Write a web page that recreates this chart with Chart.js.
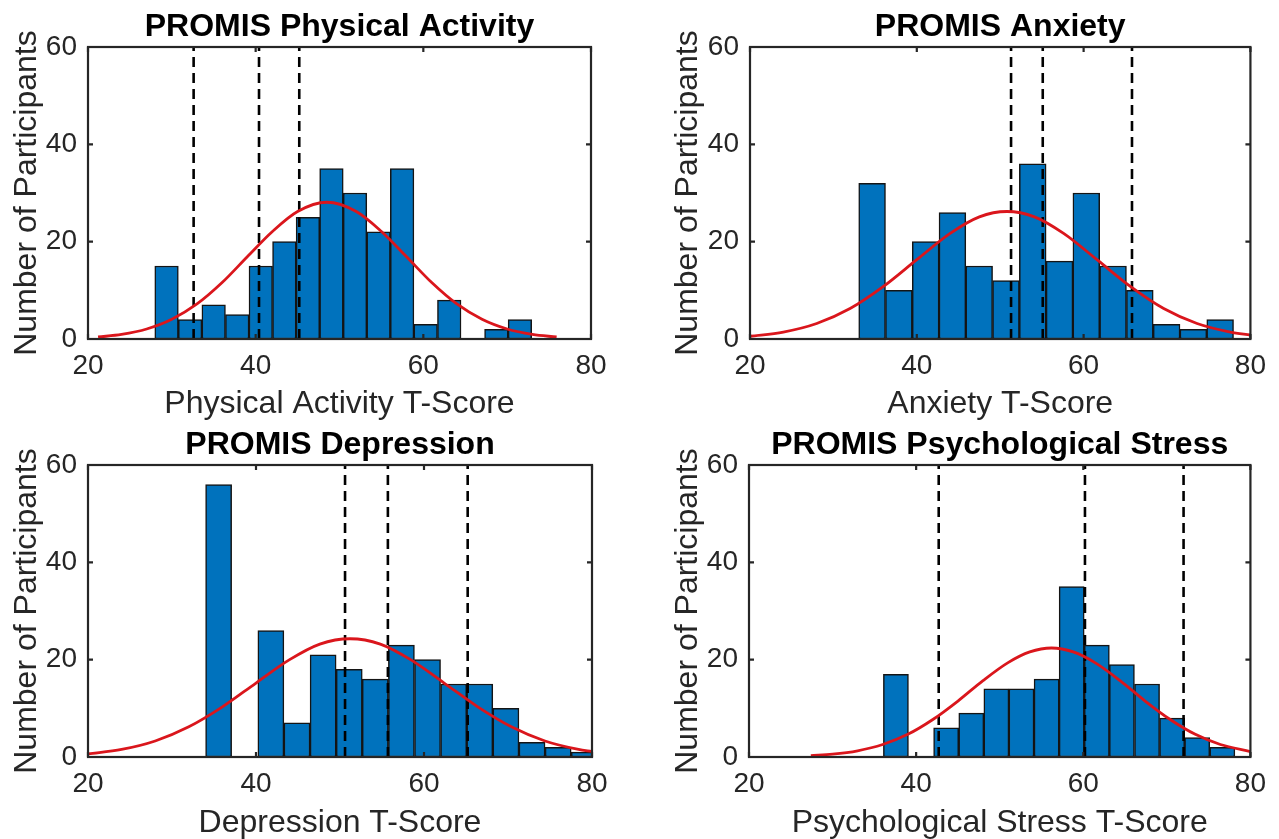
<!DOCTYPE html>
<html><head><meta charset="utf-8">
<script src="https://cdn.jsdelivr.net/npm/chart.js@4.4.1/dist/chart.umd.min.js"></script>
<style>
html,body{margin:0;padding:0;background:#fff;overflow:hidden;width:1279px;height:839px;}
.panel{position:absolute;}
</style></head><body>
<div class="panel" style="left:0;top:0;width:640px;height:420px"><canvas id="c1"></canvas></div>
<div class="panel" style="left:640px;top:0;width:639px;height:420px"><canvas id="c2"></canvas></div>
<div class="panel" style="left:0;top:418px;width:640px;height:421px"><canvas id="c3"></canvas></div>
<div class="panel" style="left:640px;top:418px;width:639px;height:421px"><canvas id="c4"></canvas></div>
<script>
// ---- shared axis values ----
const xTickValues = [20, 40, 60, 80];
const yTickValues = [0, 20, 40, 60];
const yAxisTitle = 'Number of Participants';

// ---- PROMIS Physical Activity ----
const paTitle = 'PROMIS Physical Activity';
const paXLabel = 'Physical Activity T-Score';
const paBinCenters = [29.37, 32.18, 34.99, 37.80, 40.61, 43.42, 46.23, 49.04, 51.85, 54.66, 57.47, 60.28, 63.09, 65.90, 68.71, 71.52];
const paCounts = [15, 4, 7, 5, 15, 20, 25, 35, 30, 22, 35, 3, 8, 0, 2, 4];
const paCurveX = [21.2, 24, 27, 30, 33, 36, 39, 42, 45, 48.5, 52, 55, 58, 61, 64, 67, 70, 73, 75.9];
const paCurveY = [0.41, 0.94, 2.05, 4.05, 7.2, 11.6, 16.9, 22.1, 26.2, 28.1, 26.2, 22.1, 16.9, 11.6, 7.2, 4.05, 2.05, 0.94, 0.41];
const paCutoffs = [32.6, 40.4, 45.2];

// ---- PROMIS Anxiety ----
const anxTitle = 'PROMIS Anxiety';
const anxXLabel = 'Anxiety T-Score';
const anxBinCenters = [34.64, 37.85, 41.06, 44.27, 47.48, 50.69, 53.90, 57.11, 60.32, 63.53, 66.74, 69.95, 73.16, 76.37];
const anxCounts = [32, 10, 20, 26, 15, 12, 36, 16, 30, 15, 10, 3, 2, 4];
const anxCurveX = [20, 24, 28, 32, 36, 40, 44, 47.5, 50.8, 54.1, 57.6, 61.6, 65.6, 69.6, 73.6, 77.6, 80];
const anxCurveY = [0.56, 1.42, 3.18, 6.25, 10.8, 16.3, 21.7, 25.1, 26.2, 25.1, 21.7, 16.3, 10.8, 6.25, 3.18, 1.42, 0.82];
const anxCutoffs = [51.3, 55.1, 65.8];

// ---- PROMIS Depression ----
const depTitle = 'PROMIS Depression';
const depXLabel = 'Depression T-Score';
const depBinCenters = [35.55, 38.66, 41.77, 44.88, 47.99, 51.10, 54.20, 57.31, 60.42, 63.53, 66.64, 69.75, 72.86, 75.97, 79.08];
const depCounts = [56, 0, 26, 7, 21, 18, 16, 23, 20, 15, 15, 10, 3, 2, 1];
const depCurveX = [20, 24, 28, 32, 36, 40, 44, 47.6, 51.2, 54.8, 58.4, 62.4, 66.4, 70.4, 74.4, 78.4, 80];
const depCurveY = [0.65, 1.55, 3.29, 6.2, 10.3, 15.2, 20.0, 23.2, 24.3, 23.2, 20.0, 15.2, 10.3, 6.2, 3.29, 1.55, 1.12];
const depCutoffs = [50.6, 55.7, 65.2];

// ---- PROMIS Psychological Stress ----
const strTitle = 'PROMIS Psychological Stress';
const strXLabel = 'Psychological Stress T-Score';
const strBinCenters = [37.58, 40.59, 43.59, 46.60, 49.60, 52.60, 55.61, 58.61, 61.62, 64.62, 67.63, 70.63, 73.63, 76.64];
const strCounts = [17, 0, 6, 9, 14, 14, 16, 35, 23, 19, 15, 8, 4, 2];
const strCurveX = [27.4, 30, 33, 36, 39, 42, 45, 48, 51, 53.6, 56.2, 58.8, 61.4, 64.4, 67.4, 70.4, 73.4, 76.4, 80];
const strCurveY = [0.27, 0.58, 1.28, 2.56, 4.65, 7.7, 11.5, 15.7, 19.4, 21.6, 22.4, 21.6, 19.4, 15.7, 11.5, 7.7, 4.65, 2.56, 1.1];
const strCutoffs = [42.7, 60.2, 72.0];

// ---- drawing ----
const FONT = "'Liberation Sans', Arial, Helvetica, sans-serif";
const AXIS_COLOR = '#262626';

const boxPlugin = {
  id: 'matlabBox',
  afterDatasetsDraw(chart) {
    const {ctx, chartArea: a, scales: {x, y}} = chart;
    ctx.save();
    ctx.strokeStyle = AXIS_COLOR;
    ctx.lineWidth = 2.2;
    ctx.strokeRect(a.left, a.top, a.right - a.left, a.bottom - a.top);
    ctx.beginPath();
    x.ticks.forEach(t => {
      const px = x.getPixelForValue(t.value);
      ctx.moveTo(px, a.bottom); ctx.lineTo(px, a.bottom - 5);
      ctx.moveTo(px, a.top); ctx.lineTo(px, a.top + 5);
    });
    y.ticks.forEach(t => {
      const py = y.getPixelForValue(t.value);
      ctx.moveTo(a.left, py); ctx.lineTo(a.left + 5, py);
      ctx.moveTo(a.right, py); ctx.lineTo(a.right - 5, py);
    });
    ctx.stroke();
    ctx.restore();
  }
};

function makePanel(id, title, xLabel, centers, counts, curveX, curveY, cutoffs, lay) {
  const datasets = [];
  datasets.push({
    type: 'line',
    data: curveX.map((v, i) => ({x: v, y: curveY[i]})),
    borderColor: 'rgb(218,22,28)',
    borderWidth: 2.8,
    pointRadius: 0,
    cubicInterpolationMode: 'monotone',
    fill: false,
    order: 1
  });
  cutoffs.forEach(c => datasets.push({
    type: 'line',
    data: [{x: c, y: yTickValues[0]}, {x: c, y: yTickValues[yTickValues.length - 1]}],
    borderColor: '#000',
    borderWidth: 2.6,
    borderDash: [10, 6],
    pointRadius: 0,
    fill: false,
    order: 2
  }));
  datasets.push({
    type: 'bar',
    data: centers.map((v, i) => ({x: v, y: counts[i]})),
    backgroundColor: '#0072BD',
    borderColor: '#141414',
    borderWidth: 1.5,
    borderSkipped: false,
    barPercentage: 1,
    categoryPercentage: 1,
    order: 3
  });
  new Chart(document.getElementById(id), {
    type: 'bar',
    data: {datasets},
    plugins: [boxPlugin],
    options: {
      responsive: true,
      maintainAspectRatio: false,
      animation: false,
      events: [],
      layout: {padding: {left: 0, top: 0, right: lay.rightPad, bottom: 0}},
      plugins: {
        legend: {display: false},
        tooltip: {enabled: false},
        title: {
          display: true, text: title, fullSize: false,
          color: '#000',
          font: {family: FONT, size: 32, weight: 'bold', lineHeight: 1},
          padding: {top: 11, bottom: 4}
        }
      },
      scales: {
        x: {
          type: 'linear', min: xTickValues[0], max: xTickValues[xTickValues.length - 1],
          offset: false,
          afterBuildTicks: s => { s.ticks = xTickValues.map(v => ({value: v})); },
          afterFit: s => { s.height = lay.xH; },
          grid: {display: false, drawTicks: false, offset: false},
          border: {display: false},
          ticks: {color: AXIS_COLOR, padding: 13, maxRotation: 0, font: {family: FONT, size: 28, lineHeight: 1}},
          title: {display: true, text: xLabel, color: AXIS_COLOR,
                  font: {family: FONT, size: 32, lineHeight: 1},
                  padding: {top: 0, bottom: lay.xTitlePad}}
        },
        y: {
          type: 'linear', min: yTickValues[0], max: yTickValues[yTickValues.length - 1],
          afterBuildTicks: s => { s.ticks = yTickValues.map(v => ({value: v})); },
          afterFit: s => { s.width = lay.yW; },
          grid: {display: false, drawTicks: false},
          border: {display: false},
          ticks: {color: AXIS_COLOR, padding: 11, font: {family: FONT, size: 28, lineHeight: 1}},
          title: {display: true, text: yAxisTitle, color: AXIS_COLOR,
                  font: {family: FONT, size: 32, lineHeight: 1},
                  padding: {top: lay.yTitlePad, bottom: 0}}
        }
      }
    }
  });
}

makePanel('c1', paTitle, paXLabel, paBinCenters, paCounts, paCurveX, paCurveY, paCutoffs,
  {yW: 88, rightPad: 49, xH: 81, yTitlePad: 11, xTitlePad: 0});
makePanel('c2', anxTitle, anxXLabel, anxBinCenters, anxCounts, anxCurveX, anxCurveY, anxCutoffs,
  {yW: 110, rightPad: 26, xH: 81, yTitlePad: 32, xTitlePad: 0});
makePanel('c3', depTitle, depXLabel, depBinCenters, depCounts, depCurveX, depCurveY, depCutoffs,
  {yW: 88, rightPad: 48, xH: 82, yTitlePad: 11, xTitlePad: 0});
makePanel('c4', strTitle, strXLabel, strBinCenters, strCounts, strCurveX, strCurveY, strCutoffs,
  {yW: 109, rightPad: 26, xH: 82, yTitlePad: 32, xTitlePad: 0});
</script>
</body></html>
